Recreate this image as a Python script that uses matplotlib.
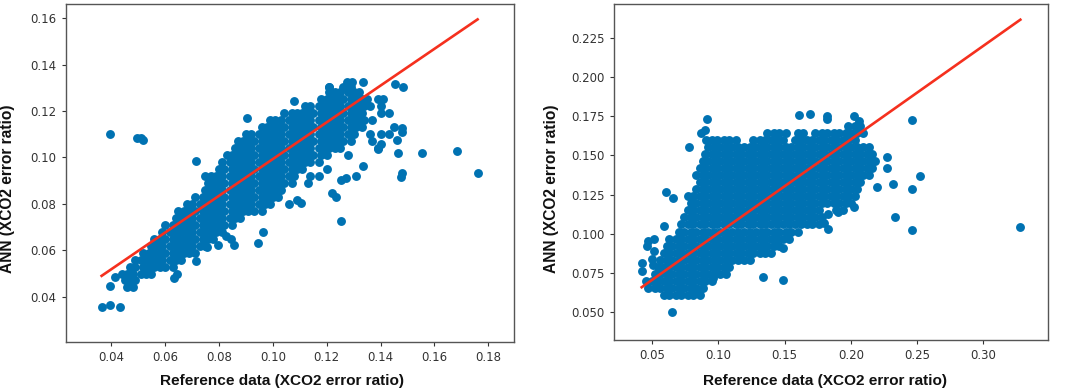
import matplotlib
matplotlib.use("Agg")
import matplotlib.pyplot as plt

# left panel, dense part of the cloud read row by row
left_row_y = [.1305, .128, .125, .122, .119, .116, .113, .110, .107, .104, .101, .098, .095, .092, .089,
              .086, .083, .080, .077, .074, .071, .068, .065, .062, .059, .056, .053, .050, .047, .044]
left_row_x = [
    [.121, .126, .129],
    [.121, .123, .125, .128, .130, .132],
    [.118, .120, .122, .124, .126, .129, .131, .133, .135, .139, .141],
    [.112, .114, .117, .119, .121, .123, .125, .128, .130, .132, .134, .136, .140],
    [.104, .107, .109, .111, .113, .115, .118, .120, .122, .124, .126, .129, .131, .133, .140, .143],
    [.099, .101, .103, .106, .108, .110, .112, .114, .117, .119, .121, .123, .125, .128, .130, .132, .134, .137],
    [.096, .098, .100, .102, .104, .107, .109, .111, .113, .115, .118, .120, .122, .124, .126, .129, .131, .133, .145],
    [.090, .092, .095, .097, .099, .101, .103, .106, .108, .110, .112, .114, .117, .119, .121, .123, .125, .128, .130, .136, .140, .143],
    [.087, .089, .091, .093, .096, .098, .100, .102, .104, .107, .109, .111, .113, .115, .118, .120, .122, .124, .126, .129, .137],
    [.086, .088, .090, .092, .095, .097, .099, .101, .103, .106, .108, .110, .112, .114, .117, .119, .121, .123, .125, .139],
    [.083, .085, .087, .089, .091, .093, .096, .098, .100, .102, .104, .107, .109, .111, .113, .115, .118, .120, .128],
    [.081, .084, .086, .088, .090, .092, .095, .097, .099, .101, .103, .106, .108, .110, .112, .114, .117],
    [.080, .082, .085, .087, .089, .091, .093, .096, .098, .100, .102, .104, .107, .109, .111, .120],
    [.075, .077, .079, .081, .084, .086, .088, .090, .092, .095, .097, .099, .101, .103, .106, .108, .114, .117],
    [.076, .078, .080, .082, .085, .087, .089, .091, .093, .096, .098, .100, .102, .104, .107, .113],
    [.075, .077, .079, .081, .084, .086, .088, .090, .092, .095, .097, .099, .101, .103],
    [.071, .074, .076, .078, .080, .082, .085, .087, .089, .091, .093, .096, .098, .100, .102],
    [.068, .070, .073, .075, .077, .079, .081, .084, .086, .088, .090, .092, .095, .097, .099, .106],
    [.065, .067, .069, .071, .074, .076, .078, .080, .082, .085, .087, .089, .091, .093, .096],
    [.064, .066, .068, .070, .073, .075, .077, .079, .081, .084, .086, .088],
    [.060, .063, .065, .067, .069, .071, .074, .076, .078, .080, .082, .085],
    [.059, .062, .064, .066, .068, .070, .073, .075, .077, .079, .081],
    [.056, .058, .060, .063, .065, .067, .069, .071, .074, .076, .078],
    [.055, .057, .059, .062, .064, .066, .068, .070, .073, .075],
    [.052, .054, .056, .058, .060, .063, .065, .067, .069, .071],
    [.049, .051, .053, .055, .057, .059, .062, .064, .066],
    [.047, .049, .052, .054, .056, .058, .060, .063],
    [.044, .046, .048, .051, .053, .055],
    [.045, .047, .049],
    [.046, .048],
]
left_out_x = [.0395, .0495, .051, .052, .0415, .0395, .0365, .0395, .0435, .0715, .0945, .0965, .1255, .1235, .122,
              .1105, .109, .1335, .131, .127, .1255, .1465, .1555, .1685, .176, .1475, .148, .146, .1455, .1485,
              .139, .140, .148, .148, .0905, .108, .121, .1275, .1295, .1335, .0795, .0755, .0715, .0635, .0645,
              .0825, .0845, .0855]
left_out_y = [.110, .1085, .1085, .1075, .0485, .0445, .0355, .0365, .0355, .0985, .063, .068, .0725, .083, .0845,
              .0805, .0815, .0965, .092, .091, .0905, .102, .102, .103, .0935, .0915, .0935, .1075, .1315, .1305,
              .1035, .106, .1125, .111, .117, .1245, .1305, .1325, .1325, .1325, .0625, .0615, .0555, .048, .050,
              .066, .065, .0625]
left_line_x = [.0365, .176]
left_line_y = [.049, .1595]

# right panel
right_row_y = [.169, .1645, .160, .1555, .151, .1465, .142, .1375, .133, .1285, .124, .1195, .115, .1105, .106,
               .1015, .097, .0925, .088, .0835, .079, .0745, .070, .0655, .061]
right_row_x = [
    [.198, .203, .207],
    [.137, .142, .146, .151, .160, .164, .173, .178, .182, .187, .191, .196, .200, .205, .209],
    [.095, .099, .104, .108, .113, .126, .131, .135, .140, .144, .149, .158, .162, .167, .171, .176, .180, .185, .189, .194, .198, .203],
    [.092, .097, .101, .106, .110, .115, .119, .124, .128, .133, .137, .142, .146, .151, .155, .160, .164, .169, .173, .178, .182, .187, .191, .196, .200, .205, .209, .214],
    [.090, .095, .099, .104, .108, .113, .117, .122, .126, .131, .135, .140, .144, .149, .153, .158, .162, .167, .171, .176, .180, .185, .189, .194, .198, .203, .207, .212, .216],
    [.088, .092, .097, .101, .106, .110, .115, .119, .124, .128, .133, .137, .142, .146, .151, .155, .160, .164, .169, .173, .178, .182, .187, .191, .196, .200, .205, .209, .214, .218],
    [.086, .090, .095, .099, .104, .108, .113, .117, .122, .126, .131, .135, .140, .144, .149, .153, .158, .162, .167, .171, .176, .180, .185, .189, .194, .198, .203, .207, .212, .216],
    [.083, .088, .092, .097, .101, .106, .110, .115, .119, .124, .128, .133, .137, .142, .146, .151, .155, .160, .164, .169, .173, .178, .182, .187, .191, .196, .200, .205, .209, .214],
    [.086, .090, .095, .099, .104, .108, .113, .117, .122, .126, .131, .135, .140, .144, .149, .153, .158, .162, .167, .171, .176, .180, .185, .189, .194, .198, .203, .207],
    [.083, .088, .092, .097, .101, .106, .110, .115, .119, .124, .128, .133, .137, .142, .146, .151, .155, .160, .164, .169, .173, .178, .182, .187, .191, .196, .200, .205],
    [.077, .081, .086, .090, .095, .099, .104, .108, .113, .117, .122, .126, .131, .135, .140, .144, .149, .153, .158, .162, .167, .171, .176, .180, .185, .189, .194, .198, .203],
    [.079, .083, .088, .092, .097, .101, .106, .110, .115, .119, .124, .128, .133, .137, .142, .146, .151, .155, .160, .164, .169, .173, .178, .182, .187, .191, .196, .200],
    [.077, .081, .086, .090, .095, .099, .104, .108, .113, .117, .122, .126, .131, .135, .140, .144, .149, .153, .158, .162, .167, .171, .176, .189, .194],
    [.074, .079, .083, .088, .092, .097, .101, .106, .110, .115, .119, .124, .128, .133, .137, .142, .146, .151, .155, .160, .164, .169, .173, .178],
    [.072, .077, .081, .086, .090, .095, .099, .104, .108, .113, .117, .122, .126, .131, .135, .140, .144, .149, .153, .158, .162, .167, .171, .176],
    [.070, .074, .079, .083, .088, .092, .097, .101, .106, .110, .115, .119, .124, .128, .133, .137, .142, .146, .151, .155, .160],
    [.063, .068, .072, .077, .081, .086, .090, .095, .099, .104, .108, .113, .117, .122, .126, .131, .135, .140, .144, .149, .153],
    [.061, .065, .070, .074, .079, .083, .088, .092, .097, .101, .106, .110, .115, .119, .124, .128, .133, .137, .142, .146],
    [.059, .063, .068, .072, .077, .081, .086, .090, .095, .099, .104, .108, .113, .117, .122, .126, .131, .135, .140],
    [.056, .061, .065, .070, .074, .079, .083, .088, .092, .097, .101, .106, .110, .115, .119, .124],
    [.054, .059, .063, .068, .072, .077, .081, .086, .090, .095, .099, .104, .108],
    [.052, .056, .061, .065, .070, .074, .079, .083, .088, .092, .097, .101, .106],
    [.045, .050, .054, .059, .063, .068, .072, .077, .081, .086, .090, .095],
    [.047, .052, .056, .061, .065, .070, .074, .079, .083, .088],
    [.059, .063, .068, .072, .077, .081, .086],
]
right_out_x = [.0915, .078, .0605, .0655, .0585, .0425, .0425, .065, .134, .1485, .161, .169, .182, .182, .202, .206,
               .246, .2525, .2465, .2315, .2195, .2275, .227, .2335, .2465, .328, .202, .183, .183, .18, .19, .149,
               .134, .096, .085, .087, .0895, .0905, .051, .047, .046, .0515, .050, .0505]
right_out_y = [.173, .1555, .127, .123, .105, .0815, .0765, .050, .0725, .0705, .176, .1765, .175, .1735, .175, .172,
               .1725, .137, .1285, .132, .130, .142, .149, .111, .1025, .1045, .117, .1125, .103, .107, .114, .091,
               .0905, .072, .064, .1645, .166, .160, .0965, .0955, .092, .089, .084, .080]
right_line_x = [.042, .328]
right_line_y = [.066, .2365]

x_label = "Reference data (XCO2 error ratio)"
y_label = "ANN (XCO2 error ratio)"
left_xticks = [.04, .06, .08, .10, .12, .14, .16, .18]
left_yticks = [.04, .06, .08, .10, .12, .14, .16]
right_xticks = [.05, .10, .15, .20, .25, .30]
right_yticks = [.050, .075, .100, .125, .150, .175, .200, .225]

W, H = 1065, 392
blue = "#0072b2"
red = "#f5301e"
grey = "#333333"


def panel(box, row_y, row_x, out_x, out_y, line_x, line_y, xlim, ylim, xticks, yticks, xfmt, yfmt, xpos, ypos):
    l, t, r, b = box
    ax = fig.add_axes([l / W, 1 - b / H, (r - l) / W, (b - t) / H])
    xs, ys = [], []
    for y, row in zip(row_y, row_x):
        for x in row:
            xs.append(x)
            ys.append(y)
    ax.scatter(xs + out_x, ys + out_y, s=41, color=blue, linewidths=0)
    ax.plot(line_x, line_y, color=red, lw=1.9)
    ax.set_xlim(xlim)
    ax.set_ylim(ylim)
    ax.set_xticks(xticks, [xfmt % v for v in xticks])
    ax.set_yticks(yticks, [yfmt % v for v in yticks])
    ax.tick_params(labelsize=8.5, colors=grey, length=3, width=0.8)
    for s in ax.spines.values():
        s.set_color("#555555")
        s.set_linewidth(1)
    ax.set_xlabel(x_label, fontfamily="Liberation Sans", fontweight="bold", fontsize=11.1, color="#111111")
    ax.set_ylabel(y_label, fontfamily="Liberation Sans", fontweight="bold", fontsize=11.2, color="#111111")
    ax.xaxis.set_label_coords(*xpos)
    ax.yaxis.set_label_coords(*ypos)
    return ax


fig = plt.figure(figsize=(W / 100, H / 100), dpi=100)
panel((65.5, 4.3, 513.7, 342), left_row_y, left_row_x, left_out_x, left_out_y, left_line_x, left_line_y,
      (.0231, .1894), (.0205, .166), left_xticks, left_yticks, "%.2f", "%.2f", (.483, -.095), (-.1127, .454))
panel((614, 4.3, 1048.3, 340.3), right_row_y, right_row_x, right_out_x, right_out_y, right_line_x, right_line_y,
      (.0211, .3491), (.0322, .2463), right_xticks, right_yticks, "%.2f", "%.3f", (.486, -.1), (-.126, .451))
fig.savefig("out.png", dpi=100)
